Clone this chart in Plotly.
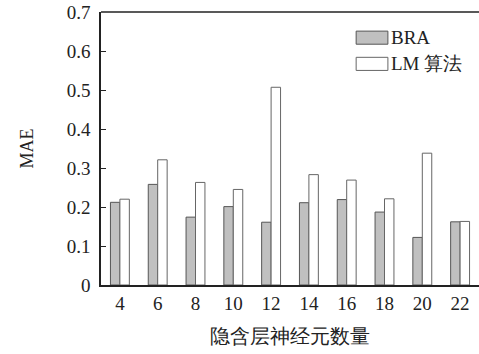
import plotly.graph_objects as go

neurons = [4, 6, 8, 10, 12, 14, 16, 18, 20, 22]
bra = [0.212, 0.258, 0.174, 0.201, 0.161, 0.211, 0.219, 0.187, 0.122, 0.162]
lm = [0.220, 0.321, 0.263, 0.245, 0.507, 0.283, 0.269, 0.221, 0.338, 0.163]
series_names = ["BRA", "LM 算法"]
y_ticks = [0, 0.1, 0.2, 0.3, 0.4, 0.5, 0.6, 0.7]

FONT = "Liberation Serif"

fig = go.Figure()
fig.add_trace(go.Bar(x=neurons, y=bra, name=series_names[0], width=0.5, offset=-0.5,
                     marker=dict(color="#c0c0c0", line=dict(color="#555555", width=1)),
                     showlegend=False))
fig.add_trace(go.Bar(x=neurons, y=lm, name=series_names[1], width=0.5, offset=0,
                     marker=dict(color="#ffffff", line=dict(color="#666666", width=1)),
                     showlegend=False))

# legend drawn manually (wide swatches as in reference)
leg = [("#c0c0c0", "#555555", series_names[0], 0.906), ("#ffffff", "#666666", series_names[1], 0.81)]
for fill, edge, label, yc in leg:
    fig.add_shape(type="rect", xref="paper", yref="paper",
                  x0=0.675, x1=0.759, y0=yc - 0.024, y1=yc + 0.024,
                  fillcolor=fill, line=dict(color=edge, width=1))
    fig.add_annotation(xref="paper", yref="paper", x=0.761, y=yc, text=label,
                       showarrow=False, xanchor="left", yanchor="middle",
                       font=dict(family=FONT, size=19, color="#222"))

# top frame line
fig.add_shape(type="line", xref="paper", yref="paper", x0=0, x1=1, y0=1, y1=1,
              line=dict(color="#222", width=1.5))

fig.update_layout(
    width=479, height=354,
    margin=dict(l=101, r=0, t=12, b=69),
    paper_bgcolor="white", plot_bgcolor="white",
    font=dict(family=FONT, size=19, color="#222"),
    barmode="overlay",
    xaxis=dict(range=[3, 23], tickvals=neurons, ticks="", showline=True,
               linecolor="#222", linewidth=1.5, showgrid=False, zeroline=False,
               title=dict(text="隐含层神经元数量", font=dict(size=20), standoff=16),
               tickfont=dict(size=19)),
    yaxis=dict(range=[0, 0.7], tickvals=y_ticks, ticks="inside", ticklen=5,
               tickcolor="#222", showline=True, linecolor="#222", linewidth=1.5,
               showgrid=False, zeroline=False, ticklabelstandoff=5,
               title=dict(text="MAE", font=dict(size=18), standoff=28),
               tickfont=dict(size=19)),
)

fig.write_html("out.html", config={"displayModeBar": False},
               post_script="document.body.style.margin='0';")
